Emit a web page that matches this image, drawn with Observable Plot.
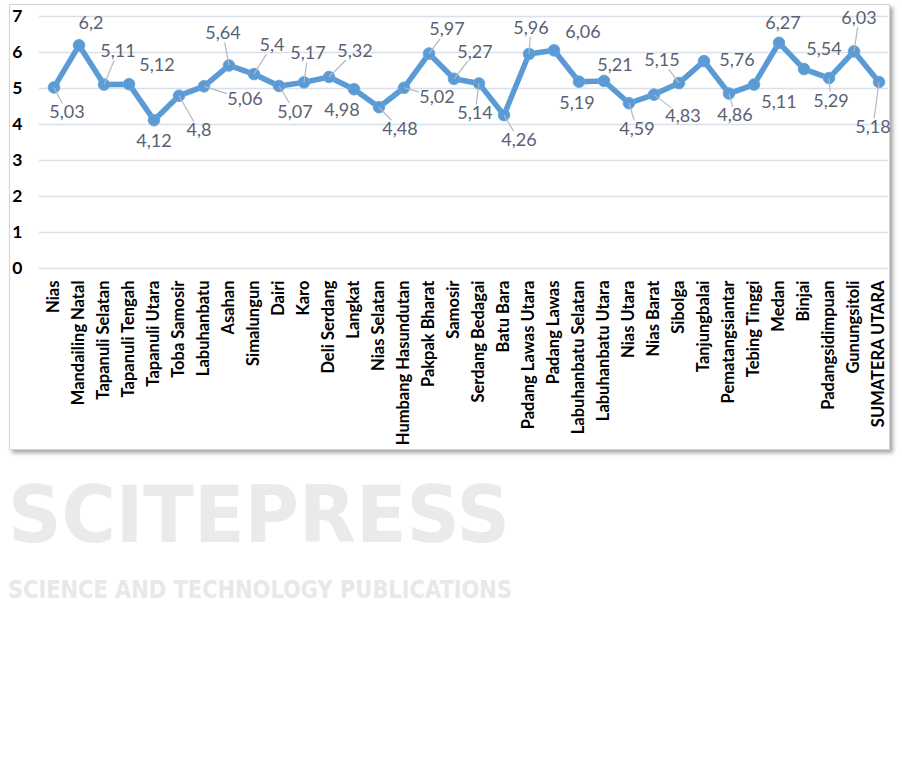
<!DOCTYPE html>
<html>
<head>
<meta charset="utf-8">
<script src="https://cdn.jsdelivr.net/npm/d3@7"></script>
<script src="https://cdn.jsdelivr.net/npm/@observablehq/plot@0.6"></script>
<style>
  html, body { margin: 0; padding: 0; background: #fff; }
  #page { position: relative; width: 902px; height: 774px; overflow: hidden; }
  #frame { position: absolute; left: 9px; top: 4px; width: 881px; height: 446px; box-sizing: border-box;
           border: 1px solid #d4d4d4; box-shadow: 3px 3px 4px rgba(0,0,0,0.35); background: #fff; }
  #chart { position: absolute; left: 0; top: 0; }
  #wm { position: absolute; left: 0; top: 0; }
</style>
</head>
<body>
<div id="page">
  <div id="frame"></div>
  <svg id="wm" width="902" height="774">
    <text x="8" y="542" textLength="502" lengthAdjust="spacingAndGlyphs" font-family="DejaVu Sans" font-weight="bold" font-size="78" fill="#e9eaea">SCITEPRESS</text>
    <text x="8" y="598" textLength="504" lengthAdjust="spacingAndGlyphs" font-family="DejaVu Sans" font-weight="bold" font-size="24" fill="#e7e8e8">SCIENCE AND TECHNOLOGY PUBLICATIONS</text>
  </svg>
  <div id="chart"></div>
</div>
<script>
const categories = ["Nias","Mandailing Natal","Tapanuli Selatan","Tapanuli Tengah","Tapanuli Utara","Toba Samosir","Labuhanbatu","Asahan","Simalungun","Dairi","Karo","Deli Serdang","Langkat","Nias Selatan","Humbang Hasundutan","Pakpak Bharat","Samosir","Serdang Bedagai","Batu Bara","Padang Lawas Utara","Padang Lawas","Labuhanbatu Selatan","Labuhanbatu Utara","Nias Utara","Nias Barat","Sibolga","Tanjungbalai","Pematangsiantar","Tebing Tinggi","Medan","Binjai","Padangsidimpuan","Gunungsitoli","SUMATERA UTARA"];
const values = [5.03,6.2,5.11,5.12,4.12,4.8,5.06,5.64,5.4,5.07,5.17,5.32,4.98,4.48,5.02,5.97,5.27,5.14,4.26,5.96,6.06,5.19,5.21,4.59,4.83,5.15,5.76,4.86,5.11,6.27,5.54,5.29,6.03,5.18];
const yTicks = [0,1,2,3,4,5,6,7];

// label placement (pixel offsets from each point) and leader-line flags
const labelDx = [13,12,14,28,0,20,41,-6,18,16,4,26,-12,21,33,18,21,-4,15,2,29,-2,11,8,29,-17,33,6,25,4,20,2,5,-6];
const labelDy = [25,-22,-33,-19,21,35,13,-32,-29,26,-29,-26,21,22,9,-24,-27,30,25,-26,-18,22,-16,26,22,-23,-1,22,18,-20,-20,23,-33,45];
const leader  = [1,0,1,0,0,1,1,1,1,1,1,1,0,1,1,1,1,1,1,1,0,0,0,1,1,1,0,1,0,0,0,1,1,1];

const W = 902, H = 460, mL = 41, mR = 11, mT = 16, mB = 192;
const step = (W - mL - mR) / categories.length;
const unit = (H - mT - mB) / 7;

const rows = categories.map((c, i) => {
  const dx = labelDx[i], dy = labelDy[i];
  const s = Math.min(18 / Math.max(Math.abs(dx), 1e-9), 9 / Math.max(Math.abs(dy), 1e-9));
  const f = Math.max(0, 1 - s);
  return {
    i, c, v: values[i],
    text: String(values[i]).replace(".", ","),
    lx: i + dx / step, ly: values[i] - dy / unit,
    ex: i + dx * f / step, ey: values[i] - dy * f / unit,
    leader: leader[i] === 1
  };
});

const chart = Plot.plot({
  width: W, height: H,
  marginLeft: mL, marginRight: mR, marginTop: mT, marginBottom: mB,
  style: { fontFamily: "Lato, 'Open Sans', sans-serif", background: "transparent", overflow: "visible" },
  x: { type: "linear", domain: [-0.5, categories.length - 0.5] },
  y: { domain: [0, 7] },
  marks: [
    Plot.gridY(yTicks, { stroke: "#d9e0ea", strokeOpacity: 1, strokeWidth: 1.3, insetLeft: -2, insetRight: 3 }),
    Plot.axisY(yTicks, { tickSize: 0, tickPadding: 19, fontSize: 17.5, fontWeight: "bold", fill: "#000", label: null }),
    Plot.axisX(d3.range(categories.length), {
      tickFormat: i => categories[i], tickRotate: -90, tickSize: 0, tickPadding: 12,
      fontSize: 16.5, fontWeight: "bold", fill: "#000", label: null
    }),
    Plot.line(rows, { x: "i", y: "v", stroke: "#5b9bd5", strokeWidth: 5.5, strokeLinejoin: "round" }),
    Plot.dot(rows, { x: "i", y: "v", r: 5.8, fill: "#5b9bd5", stroke: "#6aa6dc", strokeWidth: 1 }),
    Plot.link(rows.filter(d => d.leader), { x1: "i", y1: "v", x2: "ex", y2: "ey", stroke: "#b4b8bf", strokeWidth: 1.2 }),
    Plot.text(rows, { x: "lx", y: "ly", text: "text", fill: "#5a6172", fontSize: 18, textAnchor: "middle", lineAnchor: "middle" })
  ]
});
document.getElementById("chart").appendChild(chart);
</script>
</body>
</html>
